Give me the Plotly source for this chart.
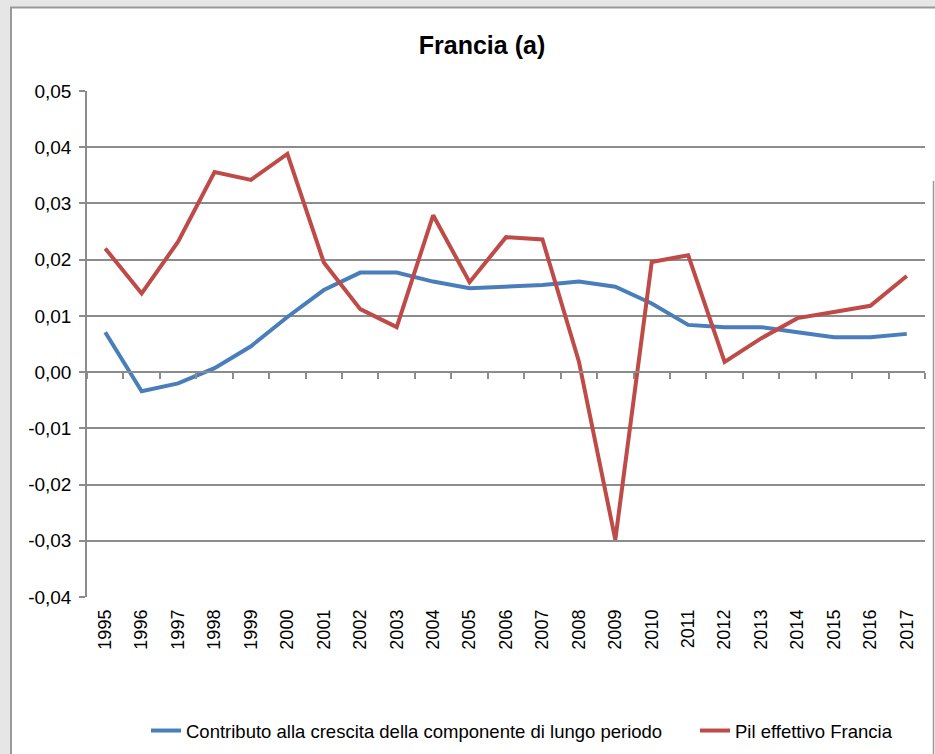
import plotly.graph_objects as go

years = [str(y) for y in range(1995, 2018)]
contributo = [0.0071, -0.0034, -0.0020, 0.0007, 0.0046, 0.0098, 0.0146, 0.0177, 0.0177,
              0.0161, 0.0149, 0.0152, 0.0155, 0.0161, 0.0152, 0.0122, 0.0084, 0.0080,
              0.0080, 0.0071, 0.0062, 0.0062, 0.0068]
pil = [0.0220, 0.0140, 0.0232, 0.0356, 0.0342, 0.0388, 0.0195, 0.0112, 0.0080,
       0.0279, 0.0160, 0.0240, 0.0236, 0.0019, -0.0298, 0.0196, 0.0208, 0.0018,
       0.0060, 0.0096, 0.0107, 0.0118, 0.0171]
y_ticks = [-0.04, -0.03, -0.02, -0.01, 0.0, 0.01, 0.02, 0.03, 0.04, 0.05]
y_tick_text = ["-0,04", "-0,03", "-0,02", "-0,01", "0,00", "0,01", "0,02", "0,03", "0,04", "0,05"]

W, H = 935, 754
ML, MR, MT, MB = 87, 10, 91, 157
PW, PH = W - ML - MR, H - MT - MB

def px(x):
    return (x - ML) / PW

def py(y):
    return (H - MB - y) / PH

fig = go.Figure()
fig.add_trace(go.Scatter(x=years, y=contributo, mode="lines",
                         name="Contributo alla crescita della componente di lungo periodo",
                         line=dict(color="#4a7ebb", width=4), legend="legend"))
fig.add_trace(go.Scatter(x=years, y=pil, mode="lines", name="Pil effettivo Francia",
                         line=dict(color="#be4b48", width=4), legend="legend2"))
# helper trace for the zero axis with ticks
fig.add_trace(go.Scatter(x=[0], y=[0], xaxis="x2", mode="markers",
                         marker=dict(opacity=0), showlegend=False, hoverinfo="skip"))

grid = "#8c8c8c"
legfont = dict(family="Liberation Sans, Arial", size=18.5, color="black")
fig.update_layout(
    width=W, height=H,
    margin=dict(l=ML, r=MR, t=MT, b=MB),
    paper_bgcolor="white", plot_bgcolor="rgba(0,0,0,0)",
    separators=",.",
    title=dict(text="<b>Francia (a)</b>", xref="container", x=482 / W, xanchor="center",
               yref="container", y=1 - 45 / H, yanchor="middle",
               font=dict(family="Liberation Sans, Arial", size=25, color="black")),
    xaxis=dict(type="category", showgrid=False, showline=False, ticks="",
               tickangle=-90, tickfont=dict(family="Liberation Sans, Arial", size=18, color="black"),
               ticklabelstandoff=8,
               range=[-0.5, 22.5], zeroline=False, automargin=False),
    xaxis2=dict(overlaying="x", anchor="free", position=0.04 / 0.09, side="bottom",
                range=[-0.5, 22.5], tickmode="array",
                tickvals=[i - 0.5 for i in range(24)], ticks="outside", ticklen=6,
                tickcolor=grid, tickwidth=1.5, showticklabels=False, showgrid=False,
                showline=True, linecolor=grid, linewidth=1.5, zeroline=False),
    yaxis=dict(range=[-0.04, 0.05], tickmode="array", tickvals=y_ticks, ticktext=y_tick_text,
               showgrid=True, gridcolor=grid, gridwidth=1.5, automargin=False,
               zeroline=False, showline=True, linecolor=grid, linewidth=1.5,
               ticks="outside", ticklen=6, tickcolor=grid, tickwidth=1.5,
               ticklabelstandoff=4,
               tickfont=dict(family="Liberation Sans, Arial", size=19, color="black")),
    legend=dict(orientation="h", xref="container", x=146 / W, xanchor="left",
                yref="container", y=1 - 731 / H, yanchor="middle",
                font=legfont, bgcolor="rgba(0,0,0,0)"),
    legend2=dict(orientation="h", xref="container", x=695 / W, xanchor="left",
                 yref="container", y=1 - 731 / H, yanchor="middle",
                 font=legfont, bgcolor="rgba(0,0,0,0)"),
    showlegend=True,
    shapes=[
        dict(type="rect", xref="paper", yref="paper", x0=px(0), x1=px(10), y0=py(H), y1=py(0),
             fillcolor="#e6e6e6", line=dict(width=0), layer="below"),
        dict(type="rect", xref="paper", yref="paper", x0=px(0), x1=px(W), y0=py(7), y1=py(0),
             fillcolor="#e6e6e6", line=dict(width=0), layer="below"),
        dict(type="line", xref="paper", yref="paper", x0=px(11), x1=px(11), y0=py(H), y1=py(7.5),
             line=dict(color="#999999", width=2)),
        dict(type="line", xref="paper", yref="paper", x0=px(10), x1=px(W), y0=py(7.5), y1=py(7.5),
             line=dict(color="#999999", width=2)),
        dict(type="line", xref="paper", yref="paper", x0=px(933.5), x1=px(933.5), y0=py(H), y1=py(181),
             line=dict(color="#999999", width=1.5)),
    ],
)

fig.write_html("out.html", config={"displayModeBar": False},
               post_script="document.body.style.margin='0';")
